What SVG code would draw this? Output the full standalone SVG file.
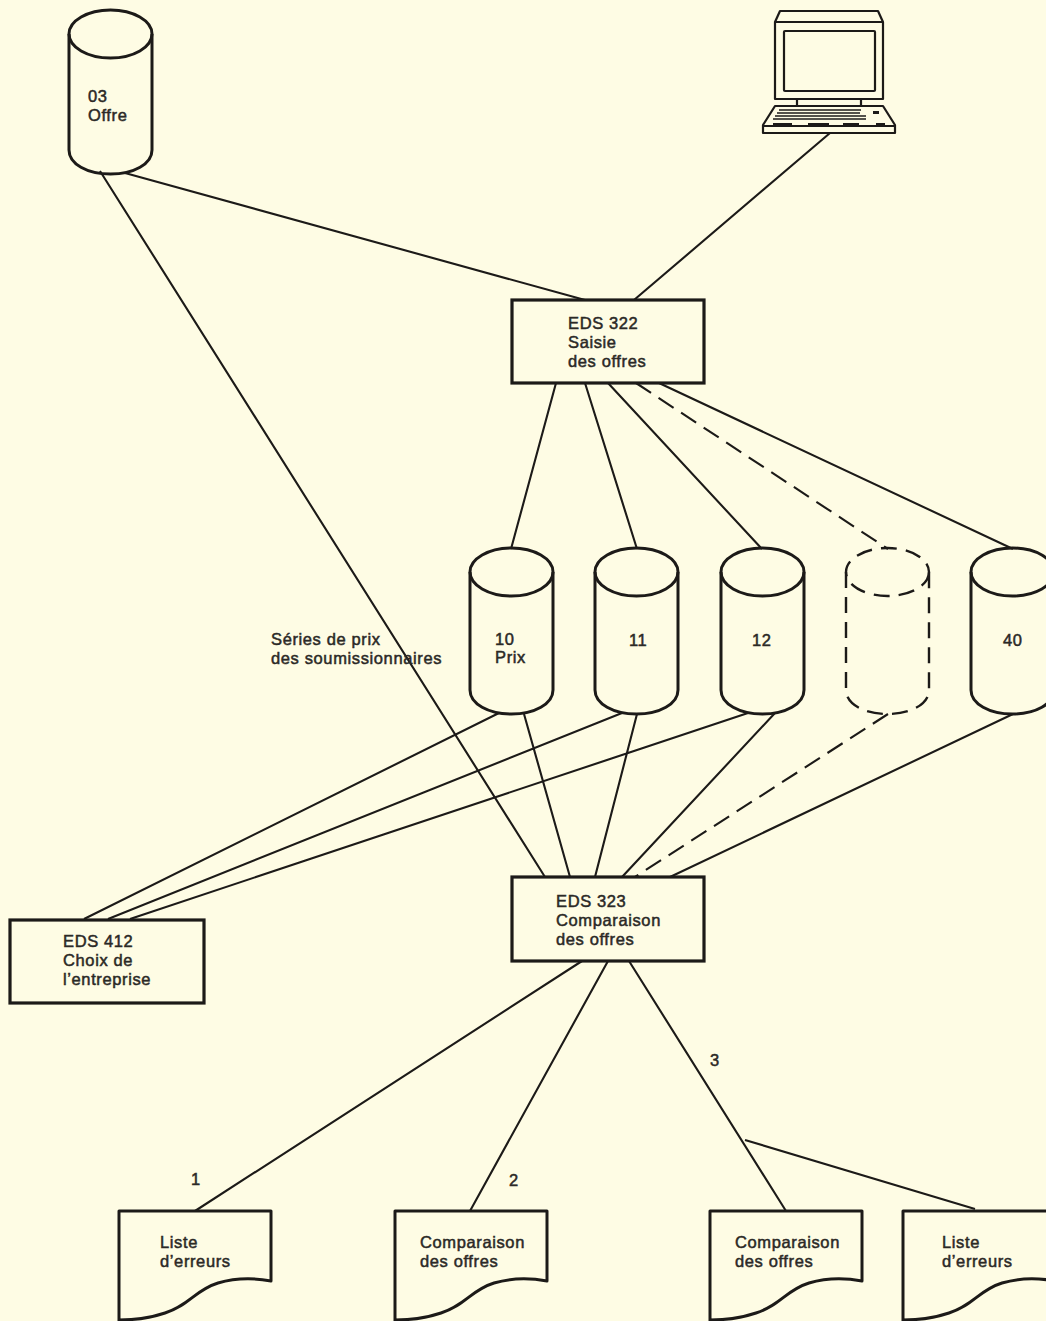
<svg xmlns="http://www.w3.org/2000/svg" width="1046" height="1321" viewBox="0 0 1046 1321">
<style>
.s{fill:none;stroke:#1c1a18;stroke-width:3;stroke-linejoin:round}
.b{fill:none;stroke:#1c1a18;stroke-width:3.2}
.l{stroke:#1c1a18;stroke-width:2.1;fill:none}
.d{stroke-dasharray:18 9}
.ds{fill:none;stroke:#1c1a18;stroke-width:2.4;stroke-dasharray:16 9}
text{font-family:"Liberation Sans",Arial,sans-serif;font-size:16.5px;letter-spacing:.62px;fill:#2b2926;stroke:#2b2926;stroke-width:.5}
</style>
<defs>
<g id="cyl"><path d="M-41.5 -142V-24C-41.5 -10 -23 0 0 0S41.5 -10 41.5 -24V-142"/><ellipse cx="0" cy="-142" rx="41.5" ry="24"/></g>
<path id="doc" d="M0 110V0H152V70C136 67 116 67 99 72C76 79 71 94 46 102C31 107 16 109 0 109"/>
</defs>
<rect width="1046" height="1321" fill="#fefce4"/>
<g id="connectors" class="l">
<path d="M125 173L585 300M100 171L545 877M830 133L634 300"/>
<path d="M556 383L511 549M585 383L637 549M608 383L762 549M659 383L1013 549"/>
<path class="d" d="M636 383L888 549"/>
<path d="M524 714L570 877M499 713L84 919M622 713L108 919M637 714L595 877M748 713L130 919M775 713L622 877M1013 714L670 877"/>
<path class="d" d="M888 714L635 877"/>
<path d="M582 961L195 1211M608 961L470 1211M629 961L786 1211M745 1140L975 1209"/>
</g>
<g id="db-03" class="s"><path d="M69 34V150C69 164 87 174 110.500 174S152 164 152 150V34"/><ellipse cx="110.500" cy="34" rx="41.500" ry="24"/><text x="88" y="102">03</text><text x="88" y="121">Offre</text></g>
<g id="terminal" class="s" style="stroke-width:2.2">
<path d="M775 22L780 11H878L883 22V99H775Z"/><path d="M775 22H883"/>
<rect x="784" y="31" width="91" height="60" rx="1"/>
<path d="M797 99V106M861 99V106"/>
<path d="M775 106H883L895 125V133H763V125ZM763 126H895"/>
<path d="M779 110H861M777 113H860M775 116H866M773 119H866" stroke-width="1.7"/>
<path d="M773 124.500H792M808 124.500H829M843 124.500H859M876 124.500H885M873 112.500H879" stroke-width="2.8"/>
</g>
<g id="eds-322"><rect class="b" x="512" y="300" width="192" height="83"/><text x="568" y="329">EDS 322</text><text x="568" y="348">Saisie</text><text x="568" y="367">des offres</text></g>
<g id="db-10"><use href="#cyl" class="s" x="511.500" y="714"/><text x="495" y="645">10</text><text x="495" y="663">Prix</text></g>
<g id="db-11"><use href="#cyl" class="s" x="636.500" y="714"/><text x="629" y="646">11</text></g>
<g id="db-12"><use href="#cyl" class="s" x="762.500" y="714"/><text x="752" y="646">12</text></g>
<g id="db-dashed" class="ds"><path d="M846 572V690C846 704 864 714 887.500 714S929 704 929 690V572"/><ellipse cx="887.500" cy="572" rx="41.500" ry="24"/></g>
<g id="db-40"><use href="#cyl" class="s" x="1012.500" y="714"/><text x="1003" y="646">40</text></g>
<g id="series-label"><text x="271" y="645">Séries de prix</text><text x="271" y="664">des soumissionnaires</text></g>
<g id="eds-323"><rect class="b" x="512" y="877" width="192" height="84"/><text x="556" y="907">EDS 323</text><text x="556" y="926">Comparaison</text><text x="556" y="945">des offres</text></g>
<g id="eds-412"><rect class="b" x="10" y="920" width="194" height="83"/><text x="63" y="947">EDS 412</text><text x="63" y="966">Choix de</text><text x="63" y="985">l’entreprise</text></g>
<g id="label-1"><text x="191" y="1185">1</text></g>
<g id="label-2"><text x="509" y="1186">2</text></g>
<g id="label-3"><text x="710" y="1066">3</text></g>
<g id="doc-1"><use href="#doc" class="s" x="119" y="1211"/><text x="160" y="1248">Liste</text><text x="160" y="1267">d’erreurs</text></g>
<g id="doc-2"><use href="#doc" class="s" x="395" y="1211"/><text x="420" y="1248">Comparaison</text><text x="420" y="1267">des offres</text></g>
<g id="doc-3"><use href="#doc" class="s" x="710" y="1211"/><text x="735" y="1248">Comparaison</text><text x="735" y="1267">des offres</text></g>
<g id="doc-4"><use href="#doc" class="s" x="903" y="1211"/><text x="942" y="1248">Liste</text><text x="942" y="1267">d’erreurs</text></g>
</svg>
